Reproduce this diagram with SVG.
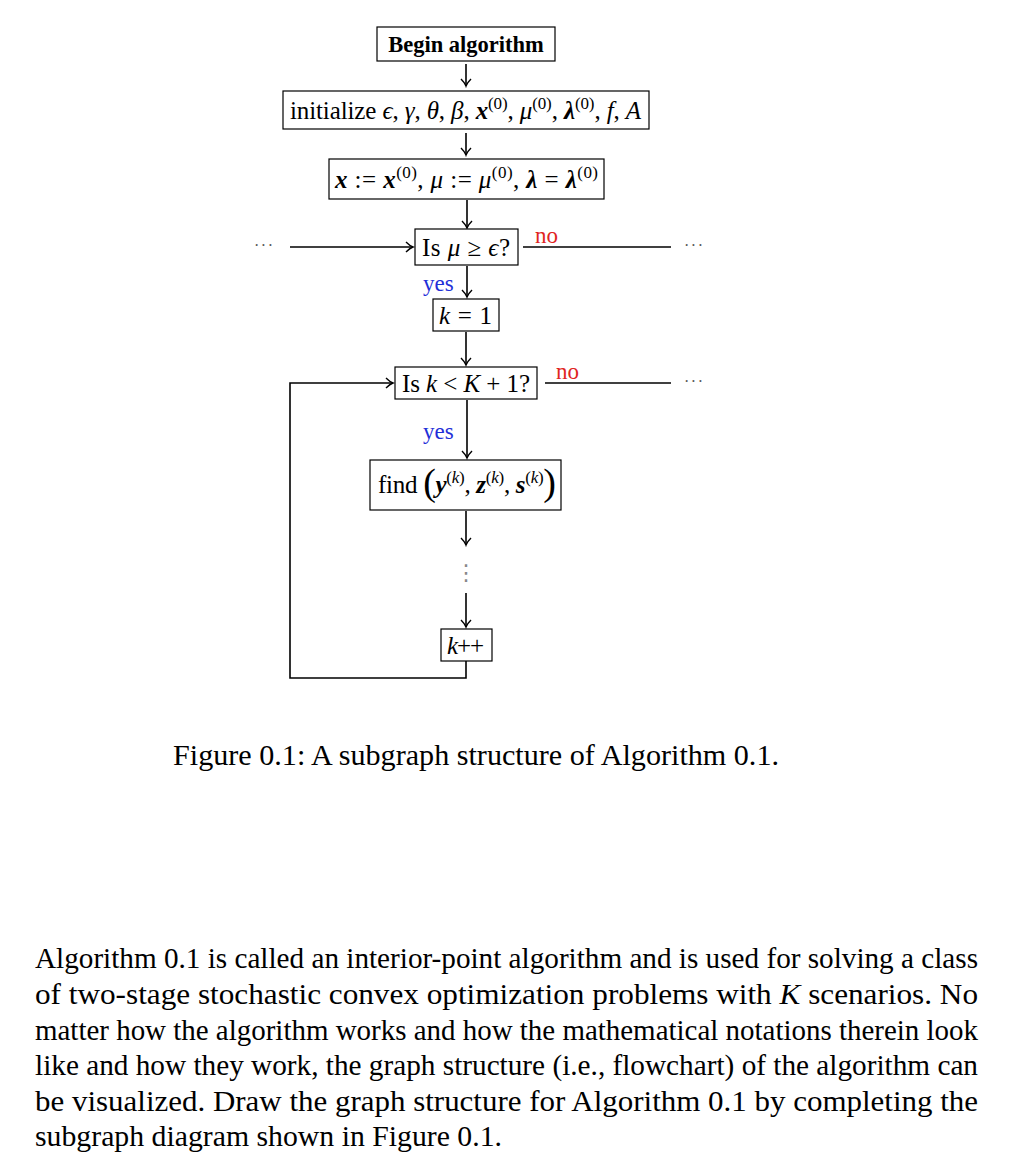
<svg xmlns="http://www.w3.org/2000/svg" width="1022" height="1172" viewBox="0 0 1022 1172">
<defs>
<marker id="ah" markerUnits="userSpaceOnUse" markerWidth="16" markerHeight="16" viewBox="-9 -8 12 16" refX="0" refY="0" orient="auto">
<path d="M -7 -5 Q -3 -1 0 0 Q -3 1 -7 5" fill="none" stroke="#000" stroke-width="1.4"/>
</marker>
<style>
.box{fill:#fff;stroke:#000;stroke-width:1.2}
.t{font-family:"Liberation Serif","DejaVu Serif",serif;font-size:25px;fill:#000}
.i{font-style:italic}
.bi{font-style:italic;font-weight:bold}
.sup{font-size:17px}
.c{fill:none;stroke:#000;stroke-width:1.6}
.dots{font-family:"Liberation Serif","DejaVu Serif",serif;font-size:16px;fill:#555;letter-spacing:2px}
.vdots{font-family:"DejaVu Sans",sans-serif;font-size:22px;fill:#888}
.yes{font-family:"Liberation Serif","DejaVu Serif",serif;font-size:23px;fill:#1f2fd8}
.no{font-family:"Liberation Serif","DejaVu Serif",serif;font-size:23px;fill:#e0261f}
.body{font-family:"Liberation Serif","DejaVu Serif",serif;font-size:29px;fill:#000}
</style>
</defs>

<g id="connectors">
<line class="c" x1="466" y1="64" x2="466" y2="86" marker-end="url(#ah)"/>
<line class="c" x1="466" y1="133" x2="466" y2="155" marker-end="url(#ah)"/>
<line class="c" x1="467" y1="200" x2="467" y2="228" marker-end="url(#ah)"/>
<line class="c" x1="290" y1="247" x2="413" y2="247" marker-end="url(#ah)"/>
<line class="c" x1="523" y1="247" x2="671" y2="247"/>
<line class="c" x1="467" y1="266" x2="467" y2="297" marker-end="url(#ah)"/>
<line class="c" x1="466" y1="332" x2="466" y2="365" marker-end="url(#ah)"/>
<line class="c" x1="467" y1="400" x2="467" y2="458" marker-end="url(#ah)"/>
<line class="c" x1="545" y1="383" x2="671" y2="383"/>
<line class="c" x1="466" y1="511" x2="466" y2="545" marker-end="url(#ah)"/>
<line class="c" x1="466" y1="593" x2="466" y2="627" marker-end="url(#ah)"/>
<path class="c" d="M 466 661 V 678 H 290 V 383 H 393" stroke-width="2" marker-end="url(#ah)"/>
<text class="dots" x="254" y="251" textLength="21">···</text>
<text class="dots" x="684" y="251" textLength="21">···</text>
<text class="dots" x="684" y="387" textLength="21">···</text>
<text class="vdots" x="466" y="580" text-anchor="middle">⋮</text>
<text class="no" x="535" y="243">no</text>
<text class="no" x="556" y="379">no</text>
<text class="yes" x="423" y="291">yes</text>
<text class="yes" x="423" y="439">yes</text>
</g>

<g id="begin">
<rect class="box" x="377" y="27" width="178" height="34"/>
<text class="t" x="466" y="52" text-anchor="middle" style="font-weight:bold;font-size:22.5px">Begin algorithm</text>
</g>

<g id="init">
<rect class="box" x="283" y="91" width="366" height="38"/>
<text class="t" x="290" y="119" textLength="351">initialize <tspan class="i">ϵ</tspan>, <tspan class="i">γ</tspan>, <tspan class="i">θ</tspan>, <tspan class="i">β</tspan>, <tspan class="bi">x</tspan><tspan class="sup" dy="-10">(0)</tspan><tspan dy="10">, </tspan><tspan class="i">μ</tspan><tspan class="sup" dy="-10">(0)</tspan><tspan dy="10">, </tspan><tspan class="bi">λ</tspan><tspan class="sup" dy="-10">(0)</tspan><tspan dy="10">, </tspan><tspan class="i">f</tspan>, <tspan class="i">A</tspan></text>
</g>

<g id="assign">
<rect class="box" x="329" y="159" width="275" height="40"/>
<text class="t" x="335" y="188" textLength="263"><tspan class="bi">x</tspan> := <tspan class="bi">x</tspan><tspan class="sup" dy="-10">(0)</tspan><tspan dy="10">, </tspan><tspan class="i">μ</tspan> := <tspan class="i">μ</tspan><tspan class="sup" dy="-10">(0)</tspan><tspan dy="10">, </tspan><tspan class="bi">λ</tspan> = <tspan class="bi">λ</tspan><tspan class="sup" dy="-10">(0)</tspan></text>
</g>

<g id="test-mu">
<rect class="box" x="415" y="229" width="103" height="36"/>
<text class="t" x="422" y="256" textLength="88">Is <tspan class="i">μ</tspan> ≥ <tspan class="i">ϵ</tspan>?</text>
</g>

<g id="k-init">
<rect class="box" x="433" y="299" width="66" height="32"/>
<text class="t" x="439" y="324" textLength="53"><tspan class="i">k</tspan> = 1</text>
</g>

<g id="test-k">
<rect class="box" x="395" y="367" width="142" height="32"/>
<text class="t" x="402" y="392" textLength="128">Is <tspan class="i">k</tspan> &lt; <tspan class="i">K</tspan> + 1?</text>
</g>

<g id="find">
<rect class="box" x="370" y="460" width="191" height="50"/>
<text class="t" x="378" y="493" textLength="178">find <tspan font-size="38" dy="2">(</tspan><tspan class="bi" dy="-2">y</tspan><tspan class="sup" dy="-10">(</tspan><tspan class="sup i">k</tspan><tspan class="sup">)</tspan><tspan dy="10">, </tspan><tspan class="bi">z</tspan><tspan class="sup" dy="-10">(</tspan><tspan class="sup i">k</tspan><tspan class="sup">)</tspan><tspan dy="10">, </tspan><tspan class="bi">s</tspan><tspan class="sup" dy="-10">(</tspan><tspan class="sup i">k</tspan><tspan class="sup">)</tspan><tspan font-size="38" dy="12">)</tspan></text>
</g>

<g id="k-inc">
<rect class="box" x="441" y="629" width="51" height="32"/>
<text class="t" x="447" y="654" textLength="37"><tspan class="i">k</tspan>++</text>
</g>

<g id="caption">
<text class="body" x="173" y="765" textLength="606" lengthAdjust="spacingAndGlyphs">Figure 0.1: A subgraph structure of Algorithm 0.1.</text>
</g>

<g id="paragraph">
<text class="body" x="35" y="968" textLength="943" lengthAdjust="spacingAndGlyphs">Algorithm 0.1 is called an interior-point algorithm and is used for solving a class</text>
<text class="body" x="35" y="1004" textLength="943" lengthAdjust="spacingAndGlyphs">of two-stage stochastic convex optimization problems with <tspan font-style="italic">K</tspan> scenarios.  No</text>
<text class="body" x="35" y="1040" textLength="943" lengthAdjust="spacingAndGlyphs">matter how the algorithm works and how the mathematical notations therein look</text>
<text class="body" x="35" y="1075" textLength="943" lengthAdjust="spacingAndGlyphs">like and how they work, the graph structure (i.e., flowchart) of the algorithm can</text>
<text class="body" x="35" y="1111" textLength="943" lengthAdjust="spacingAndGlyphs">be visualized.  Draw the graph structure for Algorithm 0.1 by completing the</text>
<text class="body" x="35" y="1146" textLength="467" lengthAdjust="spacingAndGlyphs">subgraph diagram shown in Figure 0.1.</text>
</g>
</svg>
